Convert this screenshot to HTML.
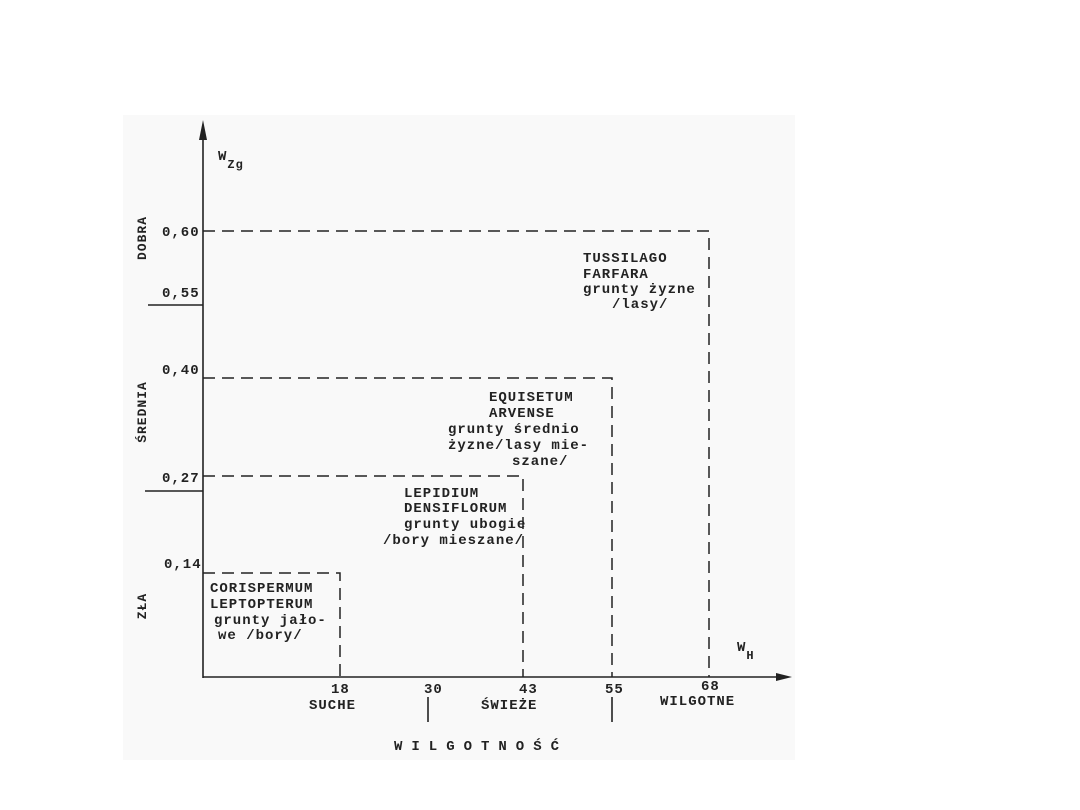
<!DOCTYPE html>
<html><head><meta charset="utf-8"><style>
body{margin:0;background:#fff}
svg{display:block}
text{font-family:"Liberation Mono",monospace;font-weight:bold;fill:#222}
</style></head><body>
<svg width="1080" height="810" viewBox="0 0 1080 810">
<rect x="123" y="115" width="672" height="645" fill="#f9f9f9"/>
<g stroke="#222" stroke-width="1.6" fill="none">
<line x1="203" y1="128" x2="203" y2="678"/>
<line x1="203" y1="677" x2="782" y2="677"/>
<line x1="148" y1="305" x2="203" y2="305"/>
<line x1="145" y1="491" x2="203" y2="491"/>
<line x1="428" y1="697" x2="428" y2="722"/>
<line x1="612" y1="697" x2="612" y2="722"/>
</g>
<polygon points="203,120 199,140 207,140" fill="#222"/>
<polygon points="792,677 776,673 776,681" fill="#222"/>
<g stroke="#222" stroke-width="1.5" fill="none" stroke-dasharray="12,7">
<polyline points="203,231 709,231 709,677"/>
<polyline points="203,378 612,378 612,677"/>
<polyline points="203,476 523,476 523,677"/>
<polyline points="203,573 340,573 340,677"/>
</g>
<g font-size="14" letter-spacing="1">
<text x="162" y="236">0,60</text>
<text x="162" y="297">0,55</text>
<text x="162" y="374">0,40</text>
<text x="162" y="482">0,27</text>
<text x="164" y="568">0,14</text>
<text x="218" y="160">W<tspan font-size="12" dy="8">Zg</tspan></text>
<text x="737" y="651">W<tspan font-size="12" dy="8">H</tspan></text>
<text x="331" y="693">18</text>
<text x="424" y="693">30</text>
<text x="519" y="693">43</text>
<text x="605" y="693">55</text>
<text x="701" y="690">68</text>
<text x="309" y="709">SUCHE</text>
<text x="481" y="709">ŚWIEŻE</text>
<text x="660" y="705">WILGOTNE</text>
<text x="394" y="750" letter-spacing="9">WILGOTNOŚĆ</text>
<text x="583" y="262">TUSSILAGO</text>
<text x="583" y="278">FARFARA</text>
<text x="583" y="293">grunty żyzne</text>
<text x="612" y="308">/lasy/</text>
<text x="489" y="401">EQUISETUM</text>
<text x="489" y="417">ARVENSE</text>
<text x="448" y="433">grunty średnio</text>
<text x="448" y="449">żyzne/lasy mie-</text>
<text x="512" y="465">szane/</text>
<text x="404" y="497">LEPIDIUM</text>
<text x="404" y="512">DENSIFLORUM</text>
<text x="404" y="528">grunty ubogie</text>
<text x="383" y="544">/bory mieszane/</text>
<text x="210" y="592">CORISPERMUM</text>
<text x="210" y="608">LEPTOPTERUM</text>
<text x="214" y="624">grunty jało-</text>
<text x="218" y="639">we /bory/</text>
</g>
<g font-size="13" letter-spacing="1">
<text transform="translate(146,238) rotate(-90)" text-anchor="middle">DOBRA</text>
<text transform="translate(146,412) rotate(-90)" text-anchor="middle">ŚREDNIA</text>
<text transform="translate(146,606) rotate(-90)" text-anchor="middle">ZŁA</text>
</g>
</svg>
</body></html>
